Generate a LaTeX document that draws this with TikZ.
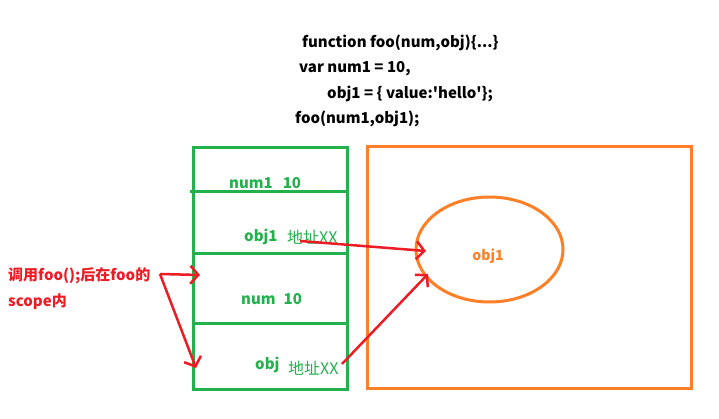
\documentclass[tikz,border=0pt]{standalone}
\usepackage{fontspec}
\setmainfont{Noto Sans CJK SC}[Ligatures=TeXOff]
\usetikzlibrary{arrows.meta,shapes.geometric}
\definecolor{pgreen}{HTML}{22B14C}
\definecolor{porange}{HTML}{FF7F27}
\definecolor{pred}{HTML}{ED1C24}
\begin{document}
\begin{tikzpicture}[x=1pt,y=-1pt,
  code/.style={anchor=west,inner sep=0pt,font=\fontsize{15}{17}\selectfont\bfseries},
  gtxt/.style={anchor=west,inner sep=0pt,text=pgreen,font=\fontsize{15}{17}\selectfont\bfseries},
  rtxt/.style={anchor=west,inner sep=0pt,text=pred,font=\fontsize{15}{17}\selectfont\bfseries},
  gline/.style={draw=pgreen,line width=3pt},
  oline/.style={draw=porange,line width=3pt},
  redarrow/.style={draw=pred,line width=2.5pt,-{Straight Barb[length=8pt,width=18pt,line width=2.5pt]}}]
\useasboundingbox (0,0) rectangle (719,419);
% code
\node[code] (l1) at (302,43) {function foo(num,obj)\{...\}};
\node[code] (l2) at (299,69) {var num1 = 10,};
\node[code] (l3) at (327,94) {obj1 = \{ value:'hello'\};};
\node[code] (l4) at (295,119) {foo(num1,obj1);};
% stack
\node[gline,rectangle,minimum width=154pt,minimum height=241pt,inner sep=0pt] (stack) at (270,268.5) {};
\draw[gline] (190,192) -- (349,192);
\draw[gline] (193,254) -- (348,254);
\draw[gline] (193,323) -- (348,323);
\node[gtxt] (num1) at (229,183) {num1\hspace{10pt}10};
\node[gtxt] (obj1) at (244,237) {obj1};
\node[gtxt,font=\fontsize{16}{18}\selectfont] (addr1) at (287,237) {地址XX};
\node[gtxt] (num) at (241,299) {num\hspace{8pt}10};
\node[gtxt] (obj) at (255,365) {obj};
\node[gtxt,font=\fontsize{16}{18}\selectfont] (addr2) at (288,368) {地址XX};
% heap
\node[oline,rectangle,minimum width=324pt,minimum height=241pt,inner sep=0pt] (heap) at (529,267.5) {};
\node[oline,ellipse,minimum width=147pt,minimum height=105pt,inner sep=0pt] (ell) at (489.5,249.5) {};
\node[inner sep=0pt,text=porange,font=\fontsize{14}{16}\selectfont\bfseries] (ob) at (488,256) {obj1};
% call label
\node[rtxt] (call) at (8,276) {调用foo();后在foo的};
\node[rtxt] (scope) at (8,302) {scope内};
\coordinate (cs) at (160,274);
\coordinate (t1) at (200,275);
\coordinate (t2) at (196,368);
\draw[redarrow] (cs) -- (t1);
\draw[redarrow] (cs) -- (t2);
% pointers
\coordinate (p1) at (300,241);
\coordinate (e1) at (426,251);
\coordinate (p2) at (342,364);
\coordinate (e2) at (428,274);
\draw[redarrow] (p1) -- (e1);
\draw[redarrow] (p2) -- (e2);
\end{tikzpicture}
\end{document}
